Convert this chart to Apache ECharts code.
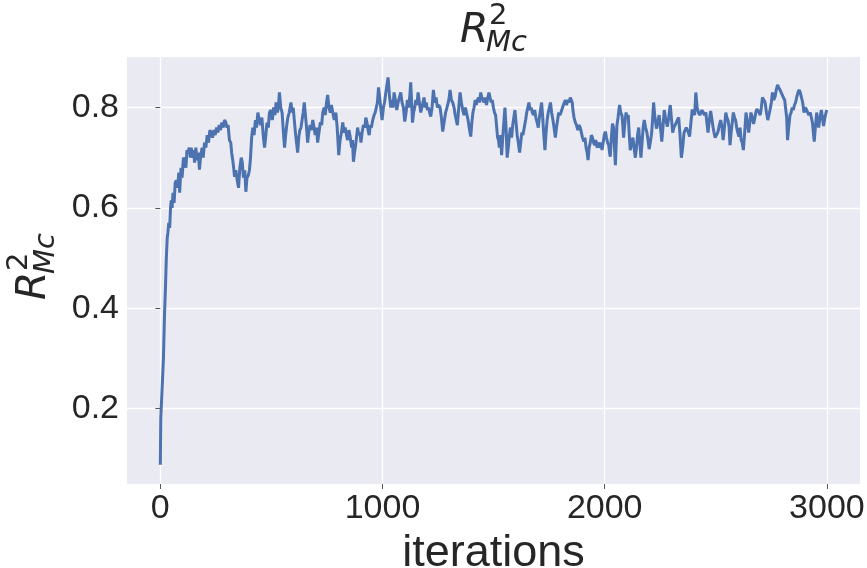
<!DOCTYPE html>
<html>
<head>
<meta charset="utf-8">
<script src="https://cdn.jsdelivr.net/npm/echarts@6/dist/echarts.min.js"></script>
<style>
html,body{margin:0;padding:0;background:#fff;}
#chart{width:867px;height:568px;}
</style>
</head>
<body>
<div id="chart"></div>
<script>
// [iteration, R^2_Mc] samples
const r2Samples = [
[0,0.088],[2,0.18],[6,0.22],[10,0.26],[14,0.30],[19,0.39],[23,0.44],[27,0.50],[31,0.54],[34,0.55],
[38,0.57],[42,0.56],[46,0.60],[49,0.615],[53,0.60],[57,0.63],[62,0.61],[67,0.65],[72,0.655],[78,0.64],
[83,0.67],[87,0.63],[93,0.68],[98,0.66],[104,0.70],[109,0.695],[115,0.68],[120,0.715],[124,0.71],[130,0.72],
[135,0.70],[139,0.72],[145,0.70],[150,0.715],[154,0.69],[160,0.72],[165,0.695],[171,0.71],[176,0.676],[182,0.705],
[188,0.72],[193,0.70],[199,0.73],[205,0.72],[211,0.745],[217,0.73],[223,0.755],[229,0.75],[235,0.74],[241,0.755],
[247,0.745],[253,0.76],[259,0.75],[265,0.765],[271,0.755],[277,0.77],[283,0.76],[289,0.775],[295,0.77],[300,0.76],
[305,0.765],[311,0.735],[317,0.73],[321,0.71],[326,0.695],[330,0.68],[334,0.662],[340,0.675],[346,0.655],[352,0.64],
[358,0.68],[364,0.70],[369,0.69],[374,0.66],[380,0.675],[385,0.632],[390,0.66],[396,0.665],[401,0.675],[406,0.70],
[411,0.74],[416,0.76],[422,0.745],[428,0.775],[433,0.76],[439,0.79],[445,0.775],[451,0.765],[457,0.78],[463,0.745],
[469,0.72],[474,0.74],[480,0.77],[486,0.76],[491,0.79],[498,0.795],[504,0.775],[510,0.80],[516,0.785],[521,0.81],
[527,0.79],[531,0.80],[536,0.83],[542,0.80],[548,0.79],[554,0.75],[559,0.72],[564,0.745],[569,0.765],[574,0.78],
[580,0.79],[584,0.80],[588,0.81],[593,0.79],[598,0.80],[603,0.775],[608,0.75],[613,0.73],[618,0.71],[623,0.74],
[628,0.755],[633,0.76],[638,0.775],[643,0.79],[648,0.81],[653,0.785],[658,0.76],[663,0.73],[668,0.75],[674,0.765],
[680,0.755],[686,0.775],[692,0.76],[697,0.745],[703,0.76],[708,0.73],[714,0.75],[720,0.77],[726,0.765],[731,0.79],
[737,0.80],[742,0.785],[748,0.81],[753,0.825],[759,0.80],[765,0.79],[770,0.805],[776,0.79],[783,0.775],[790,0.79],
[796,0.76],[803,0.705],[809,0.735],[815,0.75],[821,0.77],[827,0.75],[832,0.76],[838,0.745],[843,0.735],[849,0.755],
[855,0.74],[861,0.72],[865,0.735],[869,0.692],[874,0.71],[879,0.725],[884,0.745],[888,0.76],[893,0.745],[898,0.75],
[903,0.73],[908,0.75],[914,0.765],[920,0.76],[925,0.78],[930,0.77],[935,0.755],[940,0.745],[945,0.765],[950,0.76],
[956,0.775],[962,0.785],[967,0.79],[972,0.80],[977,0.81],[982,0.84],[987,0.82],[993,0.795],[998,0.775],[1004,0.80],
[1009,0.81],[1015,0.83],[1020,0.845],[1025,0.86],[1031,0.825],[1037,0.80],[1042,0.815],[1047,0.80],[1052,0.83],[1058,0.815],
[1064,0.795],[1070,0.81],[1076,0.82],[1082,0.83],[1088,0.81],[1094,0.80],[1100,0.772],[1106,0.79],[1112,0.815],[1118,0.80],
[1123,0.825],[1127,0.85],[1131,0.81],[1135,0.77],[1140,0.79],[1145,0.80],[1150,0.815],[1155,0.805],[1160,0.83],[1166,0.81],
[1172,0.79],[1177,0.80],[1182,0.81],[1187,0.82],[1192,0.80],[1197,0.81],[1202,0.795],[1207,0.80],[1212,0.79],[1217,0.782],
[1223,0.80],[1229,0.835],[1235,0.81],[1241,0.82],[1247,0.80],[1253,0.805],[1259,0.80],[1265,0.78],[1271,0.752],[1277,0.77],
[1284,0.79],[1290,0.80],[1296,0.81],[1300,0.82],[1304,0.835],[1310,0.815],[1316,0.81],[1322,0.80],[1327,0.785],[1332,0.775],
[1337,0.765],[1343,0.80],[1349,0.83],[1355,0.81],[1361,0.795],[1367,0.785],[1373,0.80],[1380,0.797],[1385,0.775],[1390,0.76],
[1397,0.742],[1402,0.77],[1407,0.79],[1412,0.80],[1417,0.815],[1422,0.805],[1427,0.815],[1432,0.82],[1437,0.81],[1442,0.83],
[1447,0.82],[1452,0.815],[1457,0.81],[1462,0.82],[1468,0.805],[1474,0.82],[1479,0.83],[1484,0.82],[1489,0.81],[1494,0.815],
[1499,0.80],[1504,0.79],[1509,0.785],[1514,0.76],[1518,0.74],[1522,0.735],[1526,0.72],[1531,0.745],[1536,0.705],[1541,0.74],
[1546,0.77],[1551,0.80],[1556,0.76],[1561,0.70],[1566,0.72],[1571,0.745],[1576,0.76],[1581,0.74],[1586,0.765],[1591,0.78],
[1596,0.795],[1601,0.77],[1606,0.745],[1611,0.73],[1617,0.71],[1622,0.73],[1627,0.75],[1632,0.745],[1638,0.76],[1644,0.775],
[1649,0.79],[1654,0.80],[1659,0.81],[1664,0.795],[1669,0.80],[1674,0.79],[1680,0.785],[1685,0.795],[1690,0.78],[1696,0.77],
[1701,0.76],[1706,0.78],[1711,0.795],[1716,0.81],[1721,0.78],[1726,0.745],[1731,0.715],[1736,0.75],[1741,0.775],[1746,0.79],
[1751,0.80],[1756,0.81],[1761,0.79],[1767,0.775],[1772,0.76],[1778,0.74],[1783,0.76],[1788,0.775],[1793,0.79],[1798,0.785],
[1803,0.79],[1808,0.797],[1813,0.80],[1818,0.81],[1823,0.815],[1828,0.805],[1834,0.815],[1840,0.81],[1845,0.82],[1850,0.823],
[1854,0.81],[1857,0.795],[1862,0.78],[1868,0.77],[1873,0.765],[1879,0.755],[1884,0.765],[1890,0.76],[1895,0.75],[1900,0.74],
[1906,0.732],[1911,0.74],[1916,0.72],[1921,0.71],[1925,0.695],[1930,0.72],[1935,0.73],[1940,0.745],[1945,0.74],[1950,0.73],
[1955,0.725],[1960,0.735],[1966,0.72],[1971,0.73],[1976,0.732],[1981,0.72],[1985,0.73],[1988,0.715],[1993,0.73],[1998,0.745],
[2003,0.752],[2008,0.74],[2013,0.73],[2018,0.725],[2022,0.71],[2025,0.702],[2030,0.74],[2035,0.768],[2040,0.76],[2044,0.72],
[2048,0.685],[2052,0.73],[2055,0.764],[2060,0.78],[2064,0.795],[2067,0.805],[2072,0.79],[2078,0.784],[2082,0.76],[2085,0.74],
[2090,0.765],[2096,0.79],[2101,0.78],[2106,0.785],[2110,0.75],[2115,0.715],[2121,0.73],[2127,0.74],[2132,0.72],[2138,0.70],
[2143,0.72],[2148,0.745],[2153,0.76],[2158,0.73],[2163,0.70],[2168,0.73],[2173,0.76],[2178,0.775],[2184,0.76],[2190,0.75],
[2195,0.735],[2200,0.717],[2205,0.73],[2211,0.748],[2216,0.78],[2220,0.81],[2226,0.78],[2233,0.758],[2239,0.77],[2245,0.785],
[2251,0.76],[2257,0.732],[2262,0.76],[2268,0.795],[2275,0.775],[2282,0.762],[2288,0.78],[2295,0.805],[2300,0.78],[2306,0.75],
[2311,0.76],[2317,0.765],[2322,0.77],[2327,0.775],[2333,0.78],[2339,0.745],[2345,0.70],[2351,0.72],[2357,0.75],[2362,0.755],
[2367,0.76],[2372,0.757],[2377,0.75],[2382,0.742],[2388,0.77],[2394,0.796],[2400,0.79],[2405,0.785],[2410,0.83],[2416,0.80],
[2422,0.79],[2428,0.785],[2433,0.79],[2438,0.795],[2443,0.79],[2449,0.785],[2455,0.79],[2460,0.77],[2465,0.75],[2471,0.775],
[2477,0.793],[2483,0.775],[2488,0.76],[2492,0.75],[2497,0.74],[2503,0.745],[2510,0.752],[2516,0.765],[2522,0.775],[2528,0.76],
[2533,0.735],[2539,0.76],[2545,0.79],[2550,0.78],[2555,0.775],[2560,0.76],[2564,0.725],[2569,0.75],[2574,0.77],[2579,0.79],
[2584,0.78],[2589,0.775],[2594,0.76],[2599,0.75],[2604,0.742],[2609,0.76],[2614,0.735],[2619,0.73],[2624,0.715],[2630,0.75],
[2636,0.79],[2642,0.77],[2648,0.75],[2653,0.77],[2658,0.79],[2664,0.78],[2670,0.767],[2676,0.78],[2680,0.79],[2685,0.797],
[2690,0.80],[2695,0.79],[2700,0.785],[2705,0.80],[2710,0.82],[2716,0.815],[2722,0.81],[2728,0.79],[2734,0.775],[2739,0.785],
[2744,0.795],[2750,0.81],[2755,0.83],[2761,0.815],[2767,0.822],[2772,0.835],[2778,0.845],[2783,0.84],[2789,0.835],[2794,0.83],
[2799,0.825],[2804,0.82],[2810,0.815],[2815,0.812],[2819,0.78],[2823,0.735],[2828,0.76],[2834,0.785],[2839,0.79],[2844,0.80],
[2849,0.795],[2854,0.805],[2859,0.81],[2864,0.82],[2870,0.83],[2875,0.835],[2880,0.83],[2886,0.83],[2891,0.81],[2897,0.79],
[2903,0.80],[2909,0.795],[2914,0.79],[2919,0.785],[2925,0.79],[2930,0.792],[2935,0.77],[2939,0.75],[2943,0.732],[2948,0.76],
[2954,0.79],[2958,0.775],[2963,0.76],[2969,0.78],[2975,0.795],[2980,0.78],[2985,0.763],[2991,0.78],[2999,0.795]
];
const iterations = r2Samples.map(p => p[0]);
const r2Mc = r2Samples.map(p => p[1]);
const xTicks = [0, 1000, 2000, 3000];
const yTicks = [0.2, 0.4, 0.6, 0.8];
const xLabel = 'iterations';

const chart = echarts.init(document.getElementById('chart'), null, {renderer: 'canvas'});
const tickFont = {fontFamily: 'Liberation Sans, Arial, sans-serif', fontSize: 34, color: '#262626'};
function mathLabel(x, y, rot) {
  return {
    type: 'group', x: x, y: y, rotation: rot,
    children: [
      {type: 'text', x: 0, y: 0, style: {text: 'R', font: 'italic 41px "DejaVu Sans"', fill: '#262626', verticalAlign: 'middle', align: 'left'}},
      {type: 'text', x: 29, y: -15, style: {text: '2', font: '29px "DejaVu Sans"', fill: '#262626', verticalAlign: 'middle', align: 'left'}},
      {type: 'text', x: 26, y: 12, style: {text: 'Mc', font: 'italic 29px "DejaVu Sans"', fill: '#262626', verticalAlign: 'middle', align: 'left'}}
    ]
  };
}
chart.setOption({
  animation: false,
  backgroundColor: '#ffffff',
  grid: {left: 127, right: 7, top: 57, bottom: 84, show: true, backgroundColor: '#EAEAF2', borderWidth: 0,
         containLabel: false, outerBoundsMode: 'none'},
  xAxis: {
    type: 'value', min: -150, max: 3149,
    name: xLabel, nameLocation: 'middle', nameGap: 34,
    nameTextStyle: {fontFamily: 'Liberation Sans, Arial, sans-serif', fontSize: 45, color: '#262626', verticalAlign: 'top'},
    axisLine: {show: false},
    axisTick: {show: true, length: 5, lineStyle: {color: '#555', width: 1}, customValues: xTicks},
    axisLabel: Object.assign({margin: 8, customValues: xTicks, formatter: v => String(v)}, tickFont),
    splitLine: {show: true, lineStyle: {color: '#ffffff', width: 1.3}}
  },
  yAxis: {
    type: 'value', min: 0.0495, max: 0.9007,
    axisLine: {show: false},
    axisTick: {show: true, length: 5, lineStyle: {color: '#555', width: 1}, customValues: yTicks},
    axisLabel: Object.assign({margin: 8, customValues: yTicks, formatter: v => v.toFixed(1)}, tickFont),
    splitLine: {show: true, lineStyle: {color: '#ffffff', width: 1.3}}
  },
  series: [{
    type: 'line',
    data: iterations.map((it, i) => [it, r2Mc[i]]),
    showSymbol: false,
    lineStyle: {color: '#4C72B0', width: 3},
    itemStyle: {color: '#4C72B0'}
  }],
  graphic: [
    mathLabel(460, 31, 0),
    mathLabel(34, 300, Math.PI / 2)
  ]
});
</script>
</body>
</html>
